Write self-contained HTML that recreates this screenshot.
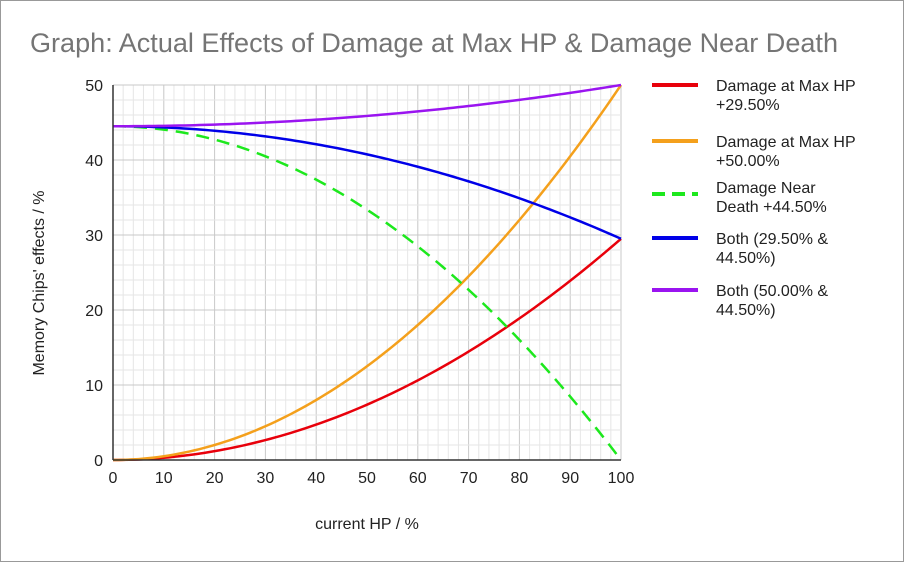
<!DOCTYPE html>
<html><head><meta charset="utf-8"><style>
body{margin:0;background:#fff}
svg text{font-family:"Liberation Sans",Arial,sans-serif}
</style></head><body>
<svg id="s" width="904" height="562" xmlns="http://www.w3.org/2000/svg">
<rect x="0.5" y="0.5" width="903" height="561" fill="#fff" stroke="#999"/>
<text x="30" y="52" font-size="27" fill="#757575" textLength="808" lengthAdjust="spacingAndGlyphs">Graph: Actual Effects of Damage at Max HP &amp; Damage Near Death</text>
<g id="grid"></g>
<g id="curves"></g>
<line x1="113" y1="85" x2="113" y2="460" stroke="#333" stroke-width="1.5"/>
<line x1="113" y1="460" x2="621" y2="460" stroke="#333" stroke-width="1.5"/>
<g font-size="16" fill="#222" text-anchor="end">
<text x="103" y="91">50</text><text x="103" y="166">40</text><text x="103" y="241">30</text>
<text x="103" y="316">20</text><text x="103" y="391">10</text><text x="103" y="466">0</text>
</g>
<g font-size="16" fill="#222" text-anchor="middle" id="xl"></g>
<text x="367" y="529" font-size="16" fill="#222" text-anchor="middle">current HP / %</text>
<text transform="translate(44,283) rotate(-90)" font-size="16" fill="#222" text-anchor="middle">Memory Chips' effects / %</text>
<g font-size="16" fill="#222">
<line x1="652" y1="85" x2="698" y2="85" stroke="#e8000b" stroke-width="4"/>
<text x="716" y="91">Damage at Max HP</text><text x="716" y="110">+29.50%</text>
<line x1="652" y1="141" x2="698" y2="141" stroke="#f4a01c" stroke-width="4"/>
<text x="716" y="147">Damage at Max HP</text><text x="716" y="166">+50.00%</text>
<line x1="652" y1="194" x2="698" y2="194" stroke="#1de81d" stroke-width="4" stroke-dasharray="13,7"/>
<text x="716" y="193">Damage Near</text><text x="716" y="212">Death +44.50%</text>
<line x1="652" y1="238" x2="698" y2="238" stroke="#0000e8" stroke-width="4"/>
<text x="716" y="244">Both (29.50% &amp;</text><text x="716" y="263">44.50%)</text>
<line x1="652" y1="290" x2="698" y2="290" stroke="#9a14f0" stroke-width="4"/>
<text x="716" y="296">Both (50.00% &amp;</text><text x="716" y="315">44.50%)</text>
</g>
</svg>
<script>
var ns="http://www.w3.org/2000/svg",g=document.getElementById('grid'),c=document.getElementById('curves'),xl=document.getElementById('xl');
function X(v){return 113+v*5.08}function Y(v){return 460-v*7.5}
function el(p,t,a){var e=document.createElementNS(ns,t);for(var k in a)e.setAttribute(k,a[k]);p.appendChild(e);return e}
for(var i=0;i<=50;i++){var x=X(i*2);el(g,'line',{x1:x,y1:85,x2:x,y2:460,stroke:i%5?'#e6e6e6':'#c8c8c8'});}
for(var i=0;i<=25;i++){var y=Y(i*2);el(g,'line',{x1:113,y1:y,x2:621,y2:y,stroke:i%5?'#e6e6e6':'#c8c8c8'});}
for(var i=0;i<=10;i++){var t=el(xl,'text',{x:X(i*10),y:483});t.textContent=i*10;}
function curve(f,col,dash){var d='';for(var i=0;i<=100;i++){var u=i/100;d+=(i?'L':'M')+X(i).toFixed(2)+' '+Y(f(u)).toFixed(2);}
var a={d:d,fill:'none',stroke:col,'stroke-width':2.5};if(dash)a['stroke-dasharray']=dash;el(c,'path',a);}
curve(function(u){return 29.5*u*u},'#e8000b');
curve(function(u){return 50*u*u},'#f4a01c');
curve(function(u){return 44.5*(1-u*u)},'#1de81d','13,8');
curve(function(u){return 44.5-15*u*u},'#0000e8');
curve(function(u){return 44.5+5.5*u*u},'#9a14f0');
</script>
</body></html>
